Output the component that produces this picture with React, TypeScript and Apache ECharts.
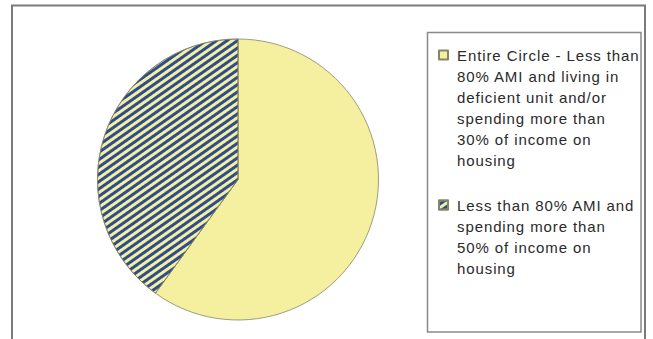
import React, { useEffect, useRef } from "react";
import * as echarts from "echarts";

const categories: string[] = [
  "Entire Circle - Less than\n80% AMI and living in\ndeficient unit and/or\nspending more than\n30% of income on\nhousing",
  "Less than 80% AMI and\nspending more than\n50% of income on\nhousing",
];
const values: number[] = [60, 40];
const sliceColors: string[] = ["#F4F0A0", "#F4F0A0"];
const stripeColor = "#2F4C8E";

export default function App() {
  const ref = useRef<HTMLDivElement>(null);
  useEffect(() => {
    if (!ref.current) return;
    const chart = echarts.init(ref.current, undefined, { renderer: "svg" });
    const decal = {
      symbol: "rect",
      symbolSize: 1,
      color: stripeColor,
      dashArrayX: [1, 0],
      dashArrayY: [2.2, 2.3],
      rotation: -(Math.PI * 35) / 180,
    };
    const LH = 21;
    const itemH = 126;
    const iconFor = (lines: number) => {
      const textTop = (itemH - lines * LH) / 2;
      const sqTop = textTop + LH / 2 - 4.5;
      return `path://M0,0 M13,${itemH} M0,${sqTop}h9v9h-9z`;
    };
    chart.setOption({
      animation: false,
      backgroundColor: "#ffffff",
      graphic: [
        {
          type: "rect",
          z: 0,
          shape: { x: 12, y: 5.5, width: 633, height: 400 },
          style: { fill: "none", stroke: "#7a7a7a", lineWidth: 2 },
        },
        {
          type: "rect",
          z: 0,
          shape: { x: 427.5, y: 32.5, width: 213.5, height: 299.5 },
          style: { fill: "#ffffff", stroke: "#8a8a8a", lineWidth: 1.5 },
        },
      ],
      legend: {
        orient: "vertical",
        left: 438,
        top: 43.5,
        padding: 0,
        itemWidth: 13,
        itemHeight: itemH,
        itemGap: 1,
        selectedMode: false,
        data: categories.map((name) => ({
          name,
          icon: iconFor(name.split("\n").length),
        })),
        textStyle: {
          fontFamily: "'Liberation Sans', Arial, sans-serif",
          fontSize: 15,
          lineHeight: LH,
          color: "#2a2a2a",
        },
      },
      series: [
        {
          type: "pie",
          center: [238, 179.5],
          radius: 140.5,
          startAngle: 90,
          clockwise: true,
          label: { show: false },
          labelLine: { show: false },
          emphasis: { disabled: true },
          itemStyle: { borderColor: "#85856a", borderWidth: 0.8 },
          data: categories.map((name, i) => ({
            name,
            value: values[i],
            itemStyle: i === 1 ? { color: sliceColors[i], decal } : { color: sliceColors[i] },
          })),
        },
      ],
    });
    return () => chart.dispose();
  }, []);
  return (
    <>
      <style>{`.chart-root text { letter-spacing: 0.9px; }`}</style>
      <div
        ref={ref}
        className="chart-root"
        style={{ position: "fixed", left: 0, top: 0, width: 653, height: 339, background: "#fff" }}
      />
    </>
  );
}
